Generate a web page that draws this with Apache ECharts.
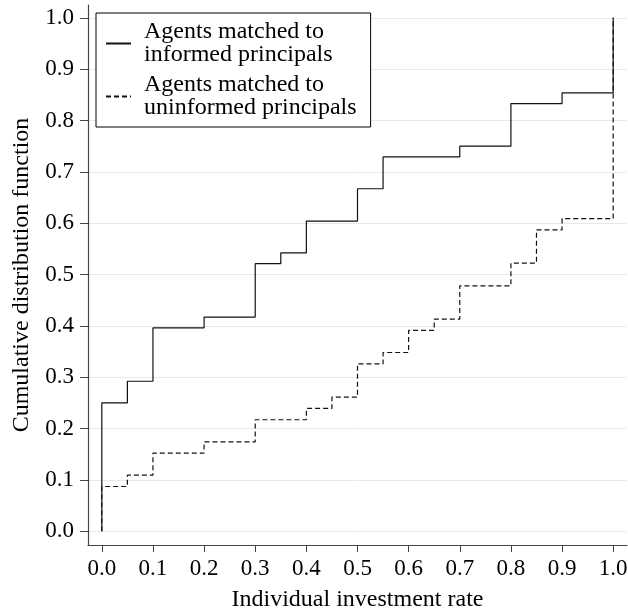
<!DOCTYPE html>
<html>
<head>
<meta charset="utf-8">
<script src="https://cdn.jsdelivr.net/npm/echarts@6/dist/echarts.min.js"></script>
<style>
html, body { margin: 0; padding: 0; background: #fff; }
#chart { width: 628px; height: 610px; }
</style>
</head>
<body>
<div id="chart"></div>
<script>
// 阶梯累积分布 (CDF)
const tickValues = [0, 0.1, 0.2, 0.3, 0.4, 0.5, 0.6, 0.7, 0.8, 0.9, 1.0]

const informedName = 'Agents matched to\ninformed principals'
const informedX = [0, 0, 0.05, 0.1, 0.2, 0.3, 0.35, 0.4, 0.5, 0.55, 0.7, 0.8, 0.9, 1.0]
const informedY = [0, 0.25, 0.292, 0.396, 0.417, 0.521, 0.542, 0.604, 0.667, 0.729, 0.75, 0.833, 0.854, 1.0]

const uninformedName = 'Agents matched to\nuninformed principals'
const uninformedX = [0, 0, 0.05, 0.1, 0.2, 0.3, 0.4, 0.45, 0.5, 0.55, 0.6, 0.65, 0.7, 0.8, 0.85, 0.9, 1.0]
const uninformedY = [0, 0.087, 0.109, 0.152, 0.174, 0.217, 0.239, 0.261, 0.326, 0.348, 0.391, 0.413, 0.478, 0.522, 0.587, 0.609, 1.0]

const font = '"Liberation Serif", "DejaVu Serif", serif'
const axisColor = '#444'

function pairs(xs, ys) {
    return xs.map((x, i) => [x, ys[i]])
}

const chart = echarts.init(document.getElementById('chart'), null, { renderer: 'canvas' })
const option = {
    animation: false,
    backgroundColor: '#fff',
    textStyle: { fontFamily: font },
    grid: { left: 88, right: 1, top: 5, bottom: 65, outerBoundsMode: 'none', containLabel: false },
    legend: {
        orient: 'vertical',
        left: 96,
        top: 13,
        padding: [7, 14, 7, 9],
        itemGap: 6,
        itemWidth: 25,
        itemHeight: 14,
        borderColor: '#000',
        borderWidth: 1,
        backgroundColor: '#fff',
        data: [informedName, uninformedName],
        itemStyle: { color: 'transparent', borderWidth: 0 },
        textStyle: { fontFamily: font, fontSize: 24, lineHeight: 23, color: '#000', padding: [0, 0, 0, 8] }
    },
    xAxis: {
        type: 'value',
        min: -0.027,
        max: 1.027,
        name: 'Individual investment rate',
        nameLocation: 'middle',
        nameGap: 43,
        nameTextStyle: { fontFamily: font, fontSize: 24, color: '#000' },
        axisLine: { show: true, onZero: false, lineStyle: { color: axisColor, width: 1.2 } },
        axisTick: { show: true, length: 7, customValues: tickValues, lineStyle: { color: axisColor } },
        axisLabel: {
            customValues: tickValues, margin: 12,
            fontFamily: font, fontSize: 23, color: '#000',
            formatter: v => v.toFixed(1)
        },
        splitLine: { show: false }
    },
    yAxis: {
        type: 'value',
        min: -0.027,
        max: 1.025,
        name: 'Cumulative distribution function',
        nameLocation: 'middle',
        nameGap: 54,
        nameTextStyle: { fontFamily: font, fontSize: 24, color: '#000' },
        axisLine: { show: true, onZero: false, lineStyle: { color: axisColor, width: 1.2 } },
        axisTick: { show: true, length: 8, customValues: tickValues, lineStyle: { color: axisColor } },
        axisLabel: {
            customValues: tickValues, margin: 14,
            fontFamily: font, fontSize: 23, color: '#000',
            formatter: v => v.toFixed(1)
        },
        splitLine: { show: true, lineStyle: { color: '#e9e9e9', width: 1 } }
    },
    series: [
        {
            name: informedName,
            type: 'line',
            step: 'end',
            symbol: 'none',
            data: pairs(informedX, informedY),
            lineStyle: { color: '#111', width: 1.2 },
            itemStyle: { color: '#111' },
            z: 3
        },
        {
            name: uninformedName,
            type: 'line',
            step: 'end',
            symbol: 'none',
            data: pairs(uninformedX, uninformedY),
            lineStyle: { color: '#111', width: 1.2, type: [5, 3] },
            itemStyle: { color: '#111' },
            z: 2
        }
    ]
}
chart.setOption(option)
</script>
</body>
</html>
